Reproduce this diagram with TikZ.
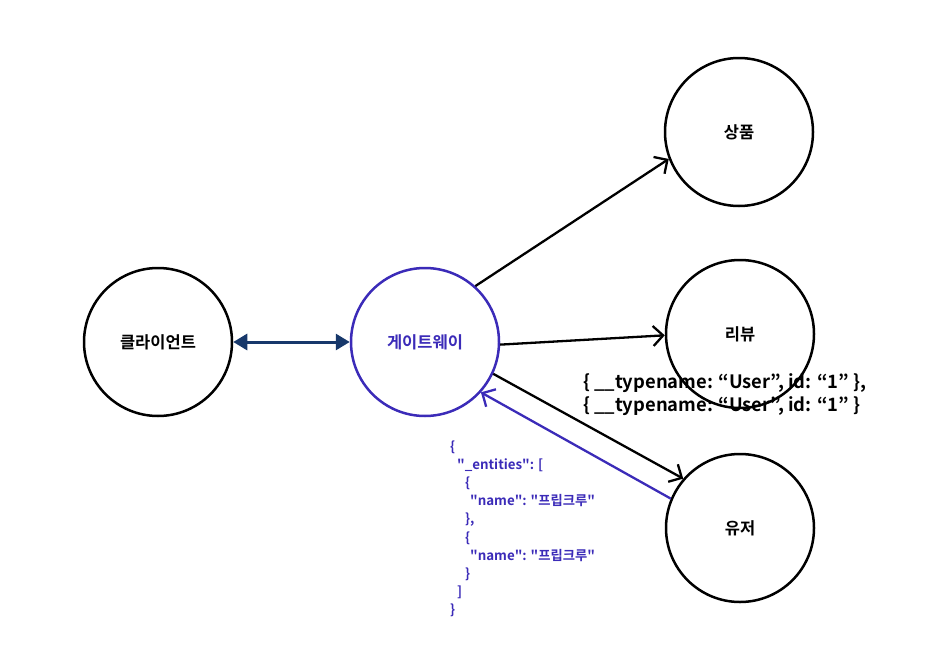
\documentclass[tikz,border=0pt]{standalone}
\usepackage{fontspec}
\setmainfont{Noto Sans CJK KR Bold}
\newfontfamily\jsonfont{Noto Sans CJK KR Bold}[Ligatures=ResetAll]
\usetikzlibrary{arrows.meta}
\definecolor{gwblue}{HTML}{3B2BB8}
\definecolor{navy}{HTML}{17386B}
\begin{document}
\begin{tikzpicture}[x=1pt,y=-1pt,
  svc/.style={circle,draw=black,line width=2.5pt,minimum size=148pt,inner sep=0pt,font=\fontsize{16.5}{18}\selectfont},
  gw/.style={svc,draw=gwblue,text=gwblue},
  req/.style={line width=2.3pt,-{Straight Barb[length=10pt,width=20pt,line width=2.3pt]}},
  resp/.style={req,draw=gwblue},
  lbl/.style={font=\fontsize{18.4}{22}\selectfont,anchor=base west,inner sep=0pt},
  json/.style={font=\jsonfont\fontsize{13.3}{20}\selectfont,text=gwblue,anchor=base west,inner sep=0pt}]
\useasboundingbox (0,0) rectangle (934,653);
\node[lbl] (tn1) at (583,388) {\{ \_\_typename: “User”, id: “1” \},};
\node[lbl] (tn2) at (583,411) {\{ \_\_typename: “User”, id: “1” \}};
\node[svc] (client) at (158,342) {클라이언트};
\node[gw] (gw) at (425,342) {게이트웨이};
\node[svc] (prod) at (739,132) {상품};
\node[svc] (review) at (740,334) {리뷰};
\node[svc] (user) at (740,528) {유저};
\draw[navy,line width=3pt,{Triangle[length=14pt,width=16pt]}-{Triangle[length=14pt,width=16pt]}] (client) -- (gw);
\draw[req] (gw.48) -- (prod.201);
\draw[req] (gw.-2) -- (review.181);
\draw[req] (gw.-25) -- (user.139);
\draw[resp] (user.157) -- (gw.-42);
\node[json] (j1) at (450,451.5) {\{};
\node[json] (j2) at (457,469.6) {"\_entities": [};
\node[json] (j3) at (465,487.7) {\{};
\node[json] (j4) at (470,505.8) {"name": "프립크루"};
\node[json] (j5) at (465,523.9) {\},};
\node[json] (j6) at (465,542.0) {\{};
\node[json] (j7) at (470,560.1) {"name": "프립크루"};
\node[json] (j8) at (465,578.2) {\}};
\node[json] (j9) at (457,596.3) {]};
\node[json] (j10) at (450,614.4) {\}};
\end{tikzpicture}
\end{document}
